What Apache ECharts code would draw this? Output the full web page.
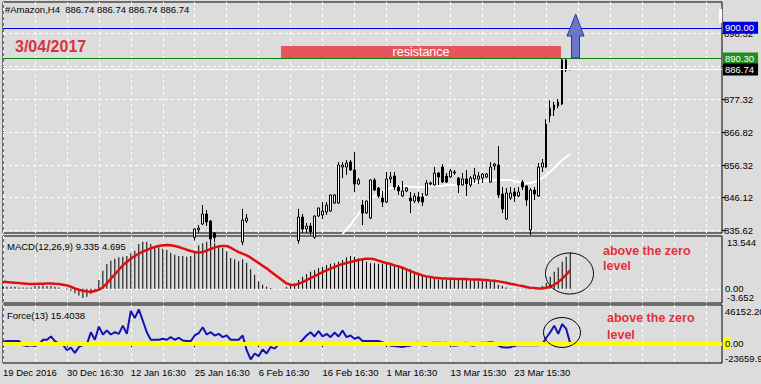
<!DOCTYPE html>
<html><head><meta charset="utf-8">
<script src="https://cdn.jsdelivr.net/npm/echarts@6.0.0/dist/echarts.min.js"></script>
<style>html,body{margin:0;padding:0;background:#dcdcdc;}#c{width:761px;height:384px;}</style>
</head><body><div id="c"></div>
<script>
// ---------------- DATA ----------------
const NSLOTS = 181;                       // bar slots across the time axis
const dateTicks = ['19 Dec 2016','30 Dec 16:30','12 Jan 16:30','25 Jan 16:30','6 Feb 16:30','16 Feb 16:30','1 Mar 16:30','13 Mar 15:30','23 Mar 15:30'];
const priceTicks = [835.62, 846.12, 856.32, 866.82, 877.32, 887.82, 898.32];
const macdTicks = [13.544, -3.652];
const macdTickLabels = ['13.544', '-3.652'];
const forceTicks = [46152.20, -23659.9];
const forceTickLabels = ['46152.20', '-23659.9'];
const zeroLabel = '0.00';
const levelValues = [900.00, 890.30, 886.74];
const levelLabels = ['900.00', '890.30', '886.74'];

const candleStart = 48;
const candleOpen  = [833.5,835.84,837.74,840.92,838.69,834.9, null,null,null,null,null,null, 832.0,838.69, null,null,null,null,null,null,null,null,null,null,null,null,
 832.5,839.96,836.15,837.11,833.5,840.28,840.60,841.55,841.87,844.41,844.41,855.83,855.83,857.42,854.88,850.44,843.77,841.23,839.65,851.71,849.17,
 845.99,844.72,852.03,852.98,849.49,846.63,848.22,845.99,845.04,846.31,846.31,846.95,850.44,850.12,853.93,855.83,852.98,852.66,853.93,852.34,850.12,
 852.03,850.12,852.03,852.03,852.34,852.66,851.07,856.15,856.47,847.26,839.33,845.99,847.90,846.63,851.07,849.80,835.84,848.53,846.63,855.83,
 855.83,872.0,873.93,875.20,875.83,889.80,886.74];
const candleClose = [836.15,836.47,840.92,838.38,833.0,833.5, null,null,null,null,null,null, 839.01,839.65, null,null,null,null,null,null,null,null,null,null,null,null,
 839.96,836.15,837.11,835.20,840.28,842.82,841.87,843.77,846.95,846.95,856.47,856.47,857.10,854.88,850.44,851.71,841.23,845.04,851.71,848.53,846.63,
 844.72,852.03,852.66,849.49,848.22,848.22,849.17,845.04,846.63,845.04,844.72,850.76,850.76,853.93,852.66,851.07,851.07,854.57,854.25,850.12,852.03,
 850.44,852.34,853.30,852.98,853.61,853.61,855.83,856.79,846.95,842.50,847.58,847.58,846.63,847.90,849.49,845.36,848.53,847.26,855.83,857.10,
 869.5,874.5,875.52,876.47,889.80,886.62,886.74];
const candleLow   = [832.5,835.0,837.42,837.11,831.5,832.0, null,null,null,null,null,null, 831.0,838.06, null,null,null,null,null,null,null,null,null,null,null,null,
 831.5,834.89,834.89,834.25,833.0,840.0,839.33,840.60,841.6,844.1,844.1,852.34,853.30,854.6,847.90,850.12,837.42,840.9,839.3,848.2,846.0,
 843.14,844.4,850.76,848.53,846.95,846.31,847.90,841.23,844.41,844.41,843.46,846.7,850.0,849.9,850.12,850.8,850.76,852.34,853.30,847.58,849.9,
 846.63,849.49,850.76,850.44,850.76,852.3,850.8,854.88,845.99,841.23,839.0,845.36,844.72,846.3,848.53,843.46,834.25,845.36,846.3,854.25,
 855.5,870.0,872.0,874.5,875.5,886.0,886.5];
const candleHigh  = [836.3,837.42,843.77,842.19,839.01,835.2, null,null,null,null,null,null, 842.50,840.92, null,null,null,null,null,null,null,null,null,null,null,null,
 842.50,840.92,838.06,838.06,840.45,843.0,844.72,844.72,847.1,847.2,857.42,857.42,858.06,858.06,860.60,852.34,845.36,845.2,852.0,852.3,849.5,
 848.22,854.25,854.25,854.25,850.12,851.39,849.49,847.90,847.58,847.90,847.58,851.71,851.2,855.83,854.25,856.79,853.93,855.20,854.88,852.66,853.93,
 854.88,852.98,855.52,854.25,853.93,853.95,857.42,857.10,862.50,849.49,849.17,849.49,849.17,849.49,851.71,850.12,849.17,849.49,857.10,858.37,
 871.0,877.0,876.5,877.42,890.43,890.43,886.9];

const maStart = 85;
const maValues = [834.57,836.15,837.42,839.33,840.92,842.82,844.41,845.68,846.63,847.26,
 847.90,848.53,849.17,849.49,849.80,849.80,849.80,849.49,849.49,849.49,
 849.49,849.49,849.80,849.80,849.80,849.80,850.12,850.12,850.12,850.44,
 850.44,850.44,850.76,850.76,851.07,851.39,851.39,851.71,851.71,851.71,
 851.71,851.71,851.71,851.39,851.07,851.07,850.76,850.76,851.07,851.71,
 852.34,853.30,854.25,855.52,856.79,858.06,859.01,859.96];

const macdHist = [0.69,0.52,0.52,0.52,0.35,0.35,0.35,0.35,0.69,0.69,
 0.87,0.69,0.69,0.52,0.35,0.01,-0.16,-0.51,-1.18,-1.71,
 -2.39,-2.05,-1.36,-0.51,2.24,4.64,6.35,7.21,7.72,8.06,
 8.23,8.41,9.09,9.78,11.49,12.09,12.00,11.49,10.98,10.63,
 10.29,9.95,9.26,8.75,8.41,8.41,8.23,8.41,9.43,11.15,
 11.67,12.09,11.92,11.67,10.98,10.46,9.61,7.89,7.55,7.04,
 7.55,6.69,4.98,3.61,1.90,1.04,0.52,0.18,0.01,0.01,
 0.01,0.44,0.69,1.38,2.24,3.09,3.78,4.38,4.81,5.24,
 5.66,6.09,6.44,6.52,6.95,7.38,8.06,8.41,8.23,7.81,
 7.55,6.95,6.52,6.52,6.44,6.40,6.35,6.28,6.18,6.01,
 5.66,5.32,4.98,4.46,4.12,3.61,3.09,2.75,2.58,2.41,
 2.41,2.24,2.24,2.24,2.24,2.24,2.24,2.24,2.24,2.15,
 2.07,1.98,1.90,1.72,1.04,0.69,0.35,0.09,0.01,-0.08,
 -0.08,-0.16,-0.08,0.01,0.18,0.69,1.55,3.09,4.38,5.49,
 6.95,8.23,9.34];
const macdSignal = [1.81,1.72,1.64,1.55,1.47,1.38,1.29,1.21,1.21,1.29,
 1.29,1.38,1.38,1.29,1.21,1.04,0.87,0.52,0.09,-0.25,
 -0.50,-0.68,-0.76,-0.59,-0.25,0.35,1.38,2.58,3.69,4.89,
 6.01,6.86,7.72,8.41,9.00,9.52,9.95,10.38,10.72,10.98,
 11.15,11.23,11.15,10.98,10.72,10.38,10.03,9.69,9.43,9.26,
 9.43,9.78,10.20,10.63,10.89,10.98,10.98,10.55,9.95,9.43,
 9.00,8.58,7.98,7.29,6.61,5.92,5.24,4.46,3.69,2.92,
 2.15,1.38,1.04,0.95,1.29,1.72,2.24,2.75,3.26,3.78,
 4.29,4.72,5.15,5.58,6.01,6.35,6.61,6.86,7.12,7.38,
 7.55,7.72,7.72,7.55,7.21,6.86,6.61,6.35,6.01,5.75,
 5.41,4.98,4.55,4.12,3.78,3.44,3.18,3.01,2.84,2.75,
 2.66,2.66,2.58,2.58,2.49,2.49,2.49,2.41,2.41,2.41,
 2.32,2.24,2.15,2.07,1.90,1.72,1.55,1.29,1.12,0.87,
 0.69,0.44,0.27,0.18,0.09,0.09,0.27,0.52,1.04,1.72,
 2.58,3.61,4.70];
const forceValues = [1970,2760,2760,2760,2760,-2360,-3150,-2360,-3150,-1180,
 4330,4330,8270,2760,-390,-1580,-8270,-5120,-11430,-4330,
 -1970,-1180,13400,4330,20090,10640,15370,10640,13400,11430,
 21280,11430,39010,30340,40980,27190,13400,4330,4330,4330,
 5520,4330,7490,4330,6700,3550,2760,2760,9460,12210,
 19310,10640,13400,9460,11430,7490,9460,4330,4330,4330,
 9460,-8270,-19310,-12210,-15370,-7490,-12210,-4330,-6300,-1180,
 -390,-390,-390,-390,-390,4330,9460,13400,8270,14580,
 8270,11430,7490,13000,8270,15370,7490,9460,5520,7490,
 2760,2760,2760,2760,2760,1180,-390,-2760,-3150,-3940,
 -4330,-3150,-2760,390,790,-2360,-2760,390,790,790,
 390,790,-2360,-2760,-2360,390,790,-2360,-2760,390,
 790,790,1180,790,-2760,-4730,-5120,-4730,-2760,-2360,
 -2360,-2360,-2360,-1970,-2360,-1180,6700,13400,21280,11430,
 23250,17340,15];

// ---------------- BUILD ----------------
const FONT = '"Liberation Sans", Arial, sans-serif';
const BG = '#dcdcdc';
const slots = Array.from({length: NSLOTS}, (_, i) => String(i));
const candleData = [];
for (let i = 0; i < candleStart; i++) candleData.push('-');
for (let k = 0; k < candleOpen.length; k++) {
  candleData.push(candleOpen[k] == null ? '-' : [candleOpen[k], candleClose[k], candleLow[k], candleHigh[k]]);
}
const maData = new Array(maStart).fill('-').concat(maValues);
function nearestIdx(arr, v) { let b = 0; for (let i = 1; i < arr.length; i++) if (Math.abs(arr[i] - v) < Math.abs(arr[b] - v)) b = i; return b; }
const isDateTick = (i) => i % 16 === 0 && i / 16 < dateTicks.length;

function xAxis(gridIndex, bottom) {
  return {
    type: 'category', gridIndex, data: slots, boundaryGap: false,
    axisLine: {show: false},
    axisTick: bottom ? {show: true, interval: (i) => isDateTick(i), length: 4, lineStyle: {color: '#000', width: 1}} : {show: false},
    axisLabel: bottom ? {show: true, interval: (i) => isDateTick(i), formatter: (v, i) => dateTicks[Math.round(Number(v) / 16)] || '',
      align: 'left', fontSize: 9.5, fontFamily: FONT, color: '#000', margin: 4, hideOverlap: false} : {show: false},
    splitLine: {show: true, interval: 7, lineStyle: {color: '#ffffff', type: [3, 3], width: 1}}
  };
}
const gridBase = {show: true, backgroundColor: BG, borderColor: '#000', borderWidth: 1, left: 3, right: 39, outerBoundsMode: 'none', containLabel: false};

const levelLineColors = ['#0000dc', '#0a7d0a', '#ffffff'];
const levelBoxColors = ['#0000dc', '#1f8f1f', '#000000'];

function edgeAxisLabel(ticks, labels, margin, botPad) {
  return {customValues: ticks, showMinLabel: true, showMaxLabel: true, hideOverlap: false, fontSize: 9.5, fontFamily: FONT, color: '#000', margin: margin,
    formatter: (v) => { const i = nearestIdx(ticks, v); return (i === 0 ? '{top|' : '{bot|') + labels[i] + '}'; },
    rich: {top: {padding: [13, 0, 0, 0]}, bot: {padding: [0, 0, botPad, 0]}}};
}

const option = {
  animation: false,
  backgroundColor: BG,
  title: {text: '#Amazon,H4  886.74 886.74 886.74 886.74', left: 5, top: 4, padding: 0,
    textStyle: {fontSize: 9.5, fontWeight: 'normal', color: '#000', fontFamily: FONT}},
  grid: [
    Object.assign({}, gridBase, {top: 2, height: 231}),
    Object.assign({}, gridBase, {top: 236, height: 67}),
    Object.assign({}, gridBase, {top: 305, height: 58})
  ],
  xAxis: [xAxis(0, false), xAxis(1, false), xAxis(2, true)],
  yAxis: [
    {type: 'value', gridIndex: 0, position: 'right', min: 834.89, max: 908.2,
      axisLine: {show: false},
      splitLine: {show: false},
      axisTick: {show: true, customValues: priceTicks, length: 3, lineStyle: {color: '#000'}},
      axisLabel: {customValues: priceTicks, formatter: (v) => Number(v).toFixed(2), fontSize: 9.5, fontFamily: FONT, color: '#000', margin: 2, hideOverlap: false}},
    {type: 'value', gridIndex: 1, position: 'right', min: -3.652, max: 13.544,
      axisLine: {show: false}, splitLine: {show: false},
      axisTick: {show: false, customValues: macdTicks},
      axisLabel: edgeAxisLabel(macdTicks, macdTickLabels, 5, 12)},
    {type: 'value', gridIndex: 2, position: 'right', min: -23659.9, max: 46152.20,
      axisLine: {show: false}, splitLine: {show: false},
      axisTick: {show: false, customValues: forceTicks},
      axisLabel: edgeAxisLabel(forceTicks, forceTickLabels, 3, 10)}
  ],
  series: [
    {type: 'candlestick', name: 'Amazon', xAxisIndex: 0, yAxisIndex: 0, data: candleData, barWidth: 2, clip: true, z: 3,
      itemStyle: {color: '#ffffff', color0: '#000000', borderColor: '#000000', borderColor0: '#000000', borderWidth: 1},
      markLine: {symbol: 'none', silent: true, animation: false, z: 4,
        data: levelValues.map((v, i) => ({yAxis: v,
          lineStyle: {color: levelLineColors[i], type: 'solid', width: 1},
          label: {show: true, position: 'end', distance: 1, formatter: levelLabels[i], color: '#ffffff', backgroundColor: levelBoxColors[i],
            padding: [1, 4, 1, 2], fontSize: 9.5, fontFamily: FONT}}))}},
    {type: 'line', name: 'MA', xAxisIndex: 0, yAxisIndex: 0, data: maData, symbol: 'none', clip: true, z: 2,
      lineStyle: {color: '#ffffff', width: 2},
      markLine: {symbol: 'none', silent: true, animation: false, z: 1, label: {show: false},
        lineStyle: {color: '#ffffff', type: [3, 3], width: 1}, data: priceTicks.map((v) => ({yAxis: v}))}},
    {type: 'bar', name: 'MACD', xAxisIndex: 1, yAxisIndex: 1, data: macdHist, barWidth: 1, z: 2,
      itemStyle: {color: '#000000'},
      markLine: {symbol: 'none', silent: true, animation: false, z: 1,
        label: {show: true, position: 'end', distance: 3, formatter: zeroLabel, color: '#000', fontSize: 9.5, fontFamily: FONT, padding: [0, 0, 2, 0]},
        lineStyle: {color: '#ffffff', type: [3, 3], width: 1}, data: [{yAxis: 0}]}},
    {type: 'line', name: 'Signal', xAxisIndex: 1, yAxisIndex: 1, data: macdSignal, symbol: 'none', z: 3,
      lineStyle: {color: '#e00f0f', width: 2.5}},
    {type: 'line', name: 'Force', xAxisIndex: 2, yAxisIndex: 2, data: forceValues, symbol: 'none', z: 2,
      lineStyle: {color: '#1212b8', width: 2},
      markLine: {symbol: 'none', silent: true, animation: false, z: 5,
        label: {show: true, position: 'end', distance: 1, color: '#000', fontSize: 9.5, fontFamily: FONT,
          formatter: '{y|' + zeroLabel.charAt(0) + '}' + zeroLabel.slice(1),
          rich: {y: {backgroundColor: '#ffff00', padding: [2, 0, 1, 2], fontSize: 9.5, fontFamily: FONT, color: '#000'}}},
        lineStyle: {color: '#ffff00', type: 'solid', width: 4}, data: [{yAxis: 0}]}}
  ],
  graphic: [
    {type: 'rect', z: 50, shape: {x: 281, y: 46, width: 280, height: 12}, style: {fill: '#e9545c'}},
    {type: 'text', z: 51, x: 421, y: 52, style: {text: 'resistance', fill: '#ffffff', font: '12.5px ' + FONT, align: 'center', verticalAlign: 'middle'}},
    {type: 'polygon', z: 50, shape: {points: [[567, 36], [575.7, 14], [584, 36], [579.5, 36], [579.5, 58], [571.5, 58], [571.5, 36]]},
      style: {fill: '#6b75c9', stroke: '#2a3a9a', lineWidth: 1}},
    {type: 'rect', z: 50, shape: {x: 719, y: 9, width: 3, height: 14}, style: {fill: '#ffffff'}},
    {type: 'text', z: 51, x: 15, y: 46, style: {text: '3/04/2017', fill: '#d8323c', font: 'bold 16px ' + FONT, verticalAlign: 'middle'}},
    {type: 'text', z: 51, x: 7, y: 246, style: {text: 'MACD(12,26,9) 9.335 4.695', fill: '#000', font: '9.5px ' + FONT, verticalAlign: 'middle'}},
    {type: 'text', z: 51, x: 7, y: 315, style: {text: 'Force(13) 15.4038', fill: '#000', font: '9.5px ' + FONT, verticalAlign: 'middle'}},
    {type: 'text', z: 51, x: 603, y: 251, style: {text: 'above the zero', fill: '#e2323a', font: 'bold 12.5px ' + FONT, verticalAlign: 'middle'}},
    {type: 'text', z: 51, x: 603, y: 266, style: {text: 'level', fill: '#e2323a', font: 'bold 12.5px ' + FONT, verticalAlign: 'middle'}},
    {type: 'text', z: 51, x: 607, y: 318, style: {text: 'above the zero', fill: '#e2323a', font: 'bold 12.5px ' + FONT, verticalAlign: 'middle'}},
    {type: 'text', z: 51, x: 607, y: 335, style: {text: 'level', fill: '#e2323a', font: 'bold 12.5px ' + FONT, verticalAlign: 'middle'}},
    {type: 'ellipse', z: 50, shape: {cx: 569.5, cy: 273.5, rx: 24, ry: 20.5}, style: {fill: 'none', stroke: '#000', lineWidth: 1}},
    {type: 'ellipse', z: 50, shape: {cx: 562, cy: 332.5, rx: 18.5, ry: 15}, style: {fill: 'none', stroke: '#000', lineWidth: 1}}
  ]
};
const chart = echarts.init(document.getElementById('c'), null, {renderer: 'svg', width: 761, height: 384});
chart.setOption(option);
</script>
</body></html>
